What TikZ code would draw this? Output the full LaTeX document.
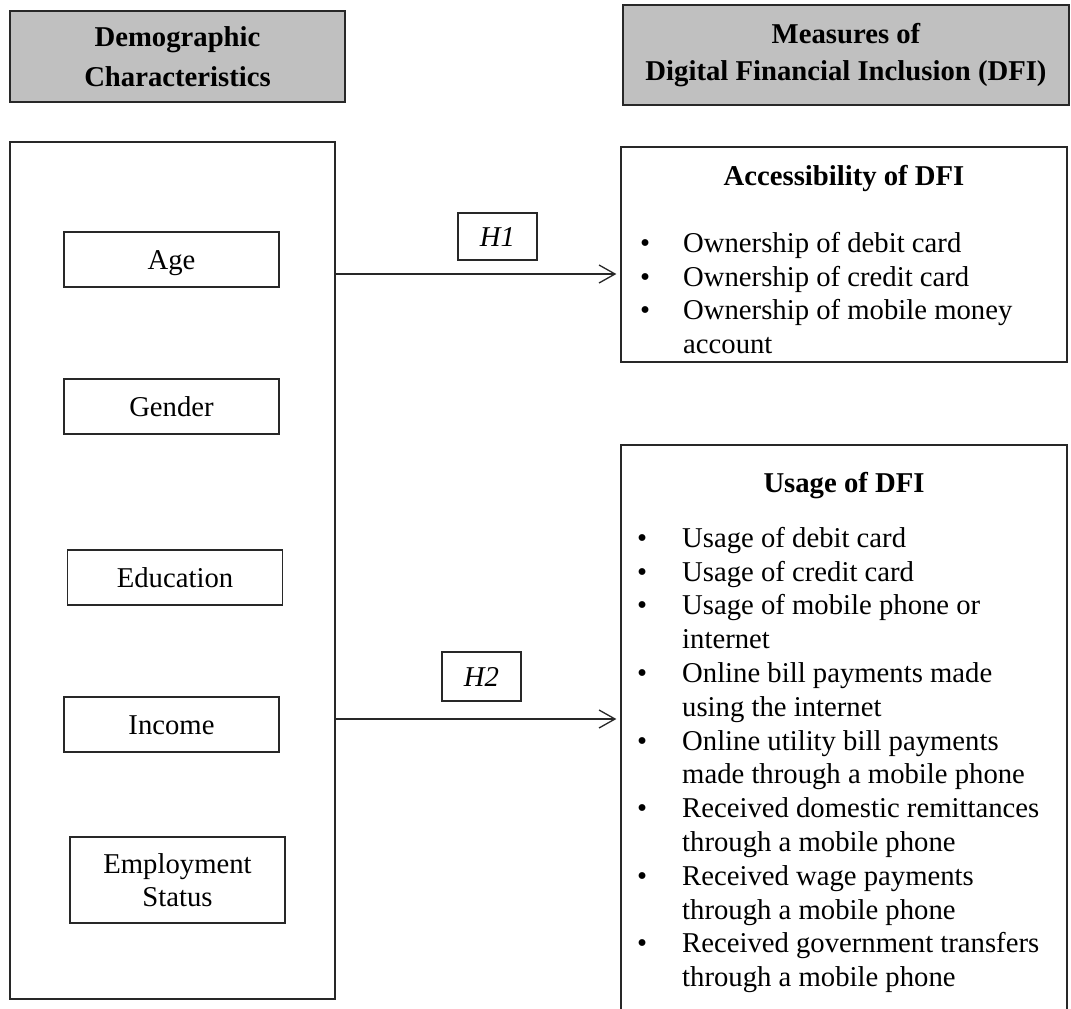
\documentclass[tikz,border=0pt]{standalone}
\usepackage{fontspec}
\setmainfont{Liberation Serif}
\usetikzlibrary{arrows.meta}
\definecolor{hdrgray}{RGB}{192,192,192}
\definecolor{edge}{RGB}{40,40,40}
\begin{document}
\begin{tikzpicture}[x=1pt,y=-1pt,
  frame/.style={draw=edge, line width=1.3pt, rectangle, inner sep=0pt},
  hdr/.style={frame, fill=hdrgray, align=center},
  varbox/.style={frame, minimum width=215pt, minimum height=55pt, align=center,
    font=\fontsize{28.7}{33}\selectfont},
  onevar/.style={varbox, text height=24pt, text depth=4pt},
  hbox/.style={frame, minimum width=79pt, text height=24pt, text depth=4pt,
    font=\itshape\fontsize{28.7}{33}\selectfont},
  ttl/.style={inner sep=0pt, font=\bfseries\fontsize{28.7}{33}\selectfont},
  lst/.style={inner sep=0pt, anchor=north west},
  arr/.style={draw=edge, line width=1.3pt, -{Straight Barb[length=16pt,width=18pt,line width=1.3pt]}}
]
\useasboundingbox (0,0) rectangle (1071,1009);
\clip (0,0) rectangle (1071,1009);
\fill[white] (0,0) rectangle (1071,1009);

% headers
\node[hdr, minimum width=335pt, minimum height=91pt,
  font=\bfseries\fontsize{28.7}{40}\selectfont] (hleft) at (177.5,56.5)
  {Demographic\\Characteristics};
\node[hdr, minimum width=446pt, minimum height=100pt,
  font=\bfseries\fontsize{28.7}{37}\selectfont] (hright) at (846,55)
  {Measures of\\Digital Financial Inclusion (DFI)};

% left big box
\node[frame, minimum width=325pt, minimum height=857pt] (left) at (172.5,570.5) {};
\node[onevar] (age) at (171.5,259.5) {Age};
\node[onevar] (gender) at (171.5,406.5) {Gender};
\node[onevar] (edu) at (175,577.5) {Education};
\node[onevar] (inc) at (171.5,724.5) {Income};
\node[varbox, minimum height=86pt] (emp) at (177.5,880) {Employment\\Status};

% right boxes
\node[frame, minimum width=446pt, minimum height=215pt] (acc) at (844,254.5) {};
\node[ttl] (acct) at (844,178) {Accessibility of DFI};
\node[lst, font=\fontsize{28.7}{33.5}\selectfont] (accl) at (640,229)
  {\begin{tabular}{@{}p{43pt}@{}l@{}}
   \textbullet & Ownership of debit card\\
   \textbullet & Ownership of credit card\\
   \textbullet & Ownership of mobile money\\
               & account
   \end{tabular}};

\node[frame, minimum width=446pt, minimum height=595pt] (use) at (844,742.5) {};
\node[ttl] (uset) at (844,486) {Usage of DFI};
\node[lst, font=\fontsize{28.7}{33.8}\selectfont] (usel) at (637,523.5)
  {\begin{tabular}{@{}p{45pt}@{}l@{}}
   \textbullet & Usage of debit card\\
   \textbullet & Usage of credit card\\
   \textbullet & Usage of mobile phone or\\
               & internet\\
   \textbullet & Online bill payments made\\
               & using the internet\\
   \textbullet & Online utility bill payments\\
               & made through a mobile phone\\
   \textbullet & Received domestic remittances\\
               & through a mobile phone\\
   \textbullet & Received wage payments\\
               & through a mobile phone\\
   \textbullet & Received government transfers\\
               & through a mobile phone
   \end{tabular}};

% hypotheses
\node[hbox, minimum height=47pt] (h1) at (497.5,236.5) {H1};
\node[hbox, minimum height=49pt] (h2) at (481.5,676.5) {H2};

\draw[arr] (left.east |- 0,274) -- ([xshift=-4pt]acc.west |- 0,274);
\draw[arr] (left.east |- 0,719) -- ([xshift=-4pt]use.west |- 0,719);
\end{tikzpicture}
\end{document}
